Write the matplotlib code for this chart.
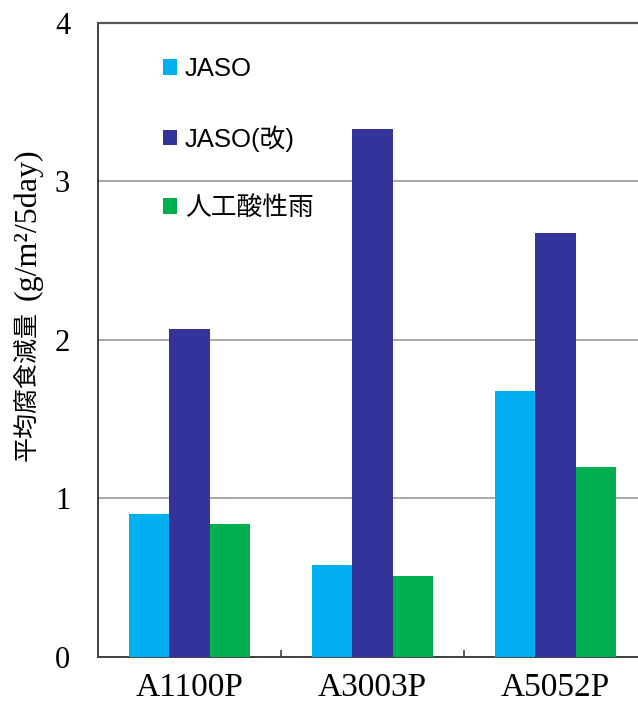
import numpy as np
import matplotlib
matplotlib.use('Agg')
import matplotlib.pyplot as plt
from matplotlib.patches import Patch
from matplotlib.font_manager import FontProperties

# data
alloys = ['A1100P', 'A3003P', 'A5052P']
series = ['JASO', 'JASO(改)', '人工酸性雨']
jaso = [0.90, 0.58, 1.68]
jaso_mod = [2.07, 3.33, 2.67]
acid_rain = [0.84, 0.51, 1.20]
colors = ['#00B0F0', '#333399', '#00B050']

fig = plt.figure(figsize=(6.38, 7.05), dpi=100)
ax = fig.add_axes([98 / 638, 1 - 657 / 705, 1 - 98 / 638, (657 - 22.5) / 705])

x = np.arange(len(alloys))
w = 0.221
for i, (vals, col) in enumerate(zip([jaso, jaso_mod, acid_rain], colors)):
    ax.bar(x + (i - 1) * w, vals, width=w, color=col, zorder=3)

# plot area is cut off on the right in the reference
ax.set_xlim(-0.5, 2.45)
ax.set_ylim(0, 4)
ax.set_yticks([0, 1, 2, 3, 4])
ax.grid(axis='y', color='#A6A6A6', linewidth=1.4, zorder=0)
ax.tick_params(axis='y', length=0, pad=20, labelsize=22)
for lab in ax.get_yticklabels():
    lab.set_family('Liberation Serif')

ax.set_xticks(x)
ax.set_xticklabels(alloys, family='Liberation Serif', fontsize=24)
ax.tick_params(axis='x', length=0, pad=11)
ax.set_xticks([0.5, 1.5], minor=True)
ax.tick_params(axis='x', which='minor', direction='in', length=5, width=1.2, color='#404040')

for s in ['left', 'bottom']:
    ax.spines[s].set_color('#404040')
    ax.spines[s].set_linewidth(1.4)
ax.spines['top'].set_color('#555555')
ax.spines['top'].set_linewidth(1.6)
ax.spines['right'].set_visible(False)

# y label: CJK part in gothic, unit part in serif
fig.text(28 / 638, 1 - 386 / 705, '平均腐食減量', rotation=90, ha='center', va='center',
         family='Noto Sans CJK JP', fontsize=18)
fig.text(28 / 638, 1 - 224 / 705, '(g/m²/5day)', rotation=90, ha='center', va='center',
         family='Liberation Serif', fontsize=23)

handles = [Patch(facecolor=c, edgecolor='none') for c in colors]
fig.legend(handles, series, loc='upper left', bbox_to_anchor=(163 / 638, 1 - 57 / 705),
           frameon=False, borderpad=0, borderaxespad=0, labelspacing=1.72,
           handlelength=0.55, handleheight=0.55, handletextpad=0.3,
           prop=FontProperties(family=['Liberation Sans', 'Noto Sans CJK JP'], size=18.5))

fig.savefig('out.png', dpi=100)
